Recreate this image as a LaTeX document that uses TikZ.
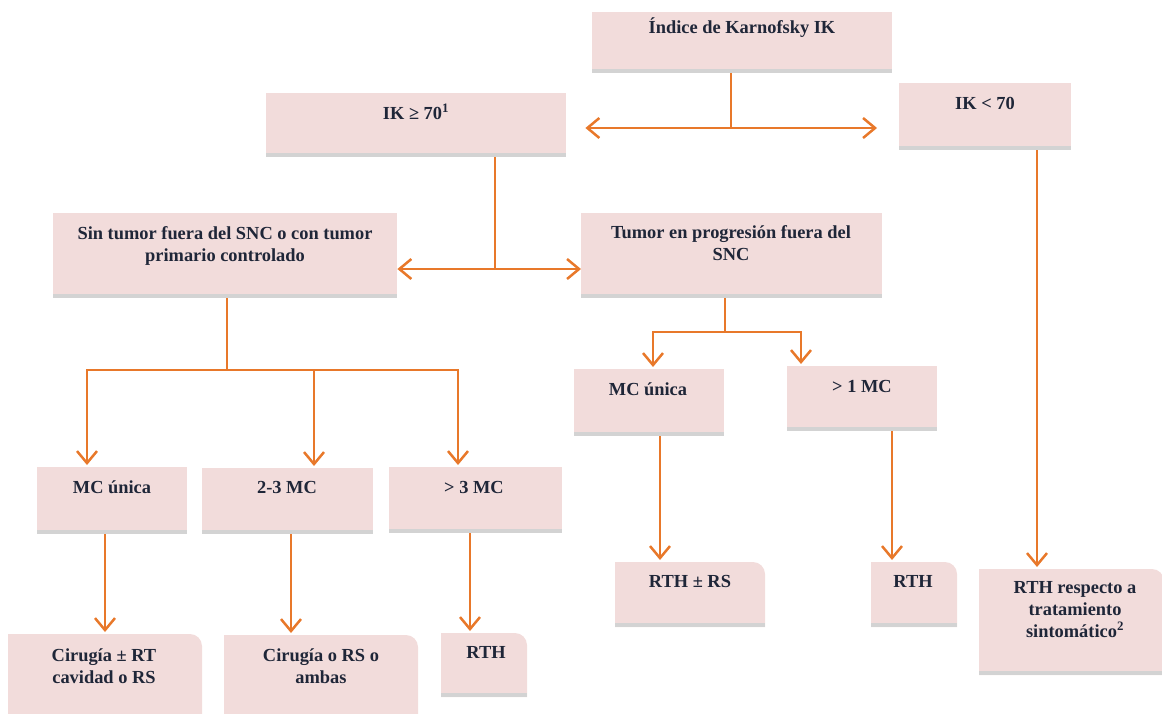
\documentclass[tikz,border=0pt]{standalone}
\usepackage{fontspec}
\setmainfont{Liberation Serif}
\usetikzlibrary{arrows.meta}
\definecolor{pinkc}{HTML}{F2DCDB}
\definecolor{shadc}{HTML}{D3D3D3}
\definecolor{orc}{HTML}{E8782A}
\definecolor{txc}{HTML}{1F2638}
\tikzset{
  boxanchor/.style={rectangle, inner sep=0pt, draw=none},
  txt/.style={inner sep=0pt, align=center, text=txc, font=\fontsize{18.4}{22}\selectfont\bfseries},
  ln/.style={draw=orc, line width=2.5pt},
  arr/.style={ln, line join=miter, -{Straight Barb[length=12pt,width=20pt]}},
  darr/.style={arr, shorten >=2pt}
}
\newcommand\sqbox[5]{%
  \fill[pinkc] (#2,#3) rectangle (#4,#5);
  \fill[shadc] (#2,{#5-4}) rectangle (#4,#5);
  \node[boxanchor, anchor=north west, minimum width={(#4-#2)*1pt}, minimum height={(#5-#3)*1pt}] (#1) at (#2,#3) {};}
\newcommand\rdbox[5]{%
  \fill[pinkc] (#2,#5) -- (#2,#3) -- ({#4-12},#3) arc[start angle=-90,end angle=0,radius=12] -- (#4,#5) -- cycle;
  \fill[shadc] (#2,{#5-4}) rectangle (#4,#5);
  \node[boxanchor, anchor=north west, minimum width={(#4-#2)*1pt}, minimum height={(#5-#3)*1pt}] (#1) at (#2,#3) {};}
\begin{document}
\begin{tikzpicture}[x=1pt,y=-1pt]
\useasboundingbox (0,0) rectangle (1162,713);
\clip (0,0) rectangle (1162,713);
% boxes
\sqbox{ind}{592}{12}{892}{73}
\sqbox{ikge}{266}{93}{566}{157}
\sqbox{iklt}{899}{83}{1071}{150}
\sqbox{sin}{53}{213}{397}{298}
\sqbox{tum}{581}{213}{882}{298}
\sqbox{mcu1}{37}{467}{187}{534}
\sqbox{mc23}{202}{468}{373}{534}
\sqbox{mc3}{389}{467}{562}{533}
\sqbox{mcu2}{574}{369}{724}{436}
\sqbox{mc1}{787}{366}{937}{431}
\rdbox{cir1}{8}{634}{202}{730}
\rdbox{cir2}{224}{635}{418}{730}
\rdbox{rth1}{441}{633}{527}{697}
\rdbox{rthrs}{615}{562}{765}{627}
\rdbox{rth2}{871}{562}{957}{627}
\rdbox{rthsin}{979}{569}{1164}{675}
% texts (base anchor = baseline of the last line)
\node[txt, anchor=base] (indt) at (742,33) {Índice de Karnofsky IK};
\node[txt, anchor=base] (ikget) at (416,119) {IK ≥ 70\textsuperscript{1}};
\node[txt, anchor=base] (ikltt) at (985,109) {IK < 70};
\node[txt, anchor=base] (sint) at (225,261) {Sin tumor fuera del SNC o con tumor\\primario controlado};
\node[txt, anchor=base] (tumt) at (731,260) {Tumor en progresión fuera del\\SNC};
\node[txt, anchor=base] (mcu1t) at (112,493) {MC única};
\node[txt, anchor=base] (mc23t) at (287,493) {2-3 MC};
\node[txt, anchor=base] (mc3t) at (474,493) {> 3 MC};
\node[txt, anchor=base] (mcu2t) at (648,395) {MC única};
\node[txt, anchor=base] (mc1t) at (862,392) {> 1 MC};
\node[txt, anchor=base] (cir1t) at (104,683) {Cirugía ± RT\\cavidad o RS};
\node[txt, anchor=base] (cir2t) at (321,683) {Cirugía o RS o\\ambas};
\node[txt, anchor=base] (rth1t) at (486,658) {RTH};
\node[txt, anchor=base] (rthrst) at (690,587) {RTH ± RS};
\node[txt, anchor=base] (rth2t) at (913,587) {RTH};
\node[txt, anchor=base] (rthsint) at (1075,637) {RTH respecto a\\tratamiento\\sintomático\textsuperscript{2}};
% junctions
\coordinate (j0) at (731,128);
\coordinate (j1) at (495,269);
\coordinate (j2) at (227,370);
\coordinate (j2a) at (87,370);
\coordinate (j2b) at (314,370);
\coordinate (j2c) at (458,370);
\coordinate (j3) at (725,332);
\coordinate (j3a) at (653,332);
\coordinate (j3b) at (801,332);
\coordinate (xa) at (105,0);
\coordinate (xb) at (291,0);
\coordinate (xc) at (470,0);
\coordinate (xd) at (660,0);
\coordinate (xe) at (892,0);
\coordinate (xf) at (1037,0);
% connectors
\draw[ln] (ind.south -| j0) -- (j0);
\draw[arr, shorten >=19pt] (j0) -- (j0 -| ikge.east);
\draw[arr, shorten >=22pt] (j0) -- (j0 -| iklt.west);
\draw[ln] (ikge.south -| j1) -- (j1);
\draw[arr] (j1) -- (j1 -| sin.east);
\draw[arr] (j1) -- (j1 -| tum.west);
\draw[ln] (sin.south -| j2) -- (j2);
\draw[darr] (j2) -- (j2a) -- (j2a |- mcu1.north);
\draw[darr] (j2) -- (j2b) -- (j2b |- mc23.north);
\draw[darr] (j2b) -- (j2c) -- (j2c |- mc3.north);
\draw[ln] (tum.south -| j3) -- (j3);
\draw[darr] (j3) -- (j3a) -- (j3a |- mcu2.north);
\draw[darr] (j3) -- (j3b) -- (j3b |- mc1.north);
\draw[darr] (mcu1.south -| xa) -- (cir1.north -| xa);
\draw[darr] (mc23.south -| xb) -- (cir2.north -| xb);
\draw[darr] (mc3.south -| xc) -- (rth1.north -| xc);
\draw[darr] (mcu2.south -| xd) -- (rthrs.north -| xd);
\draw[darr] (mc1.south -| xe) -- (rth2.north -| xe);
\draw[darr] (iklt.south -| xf) -- (rthsin.north -| xf);
\end{tikzpicture}
\end{document}
